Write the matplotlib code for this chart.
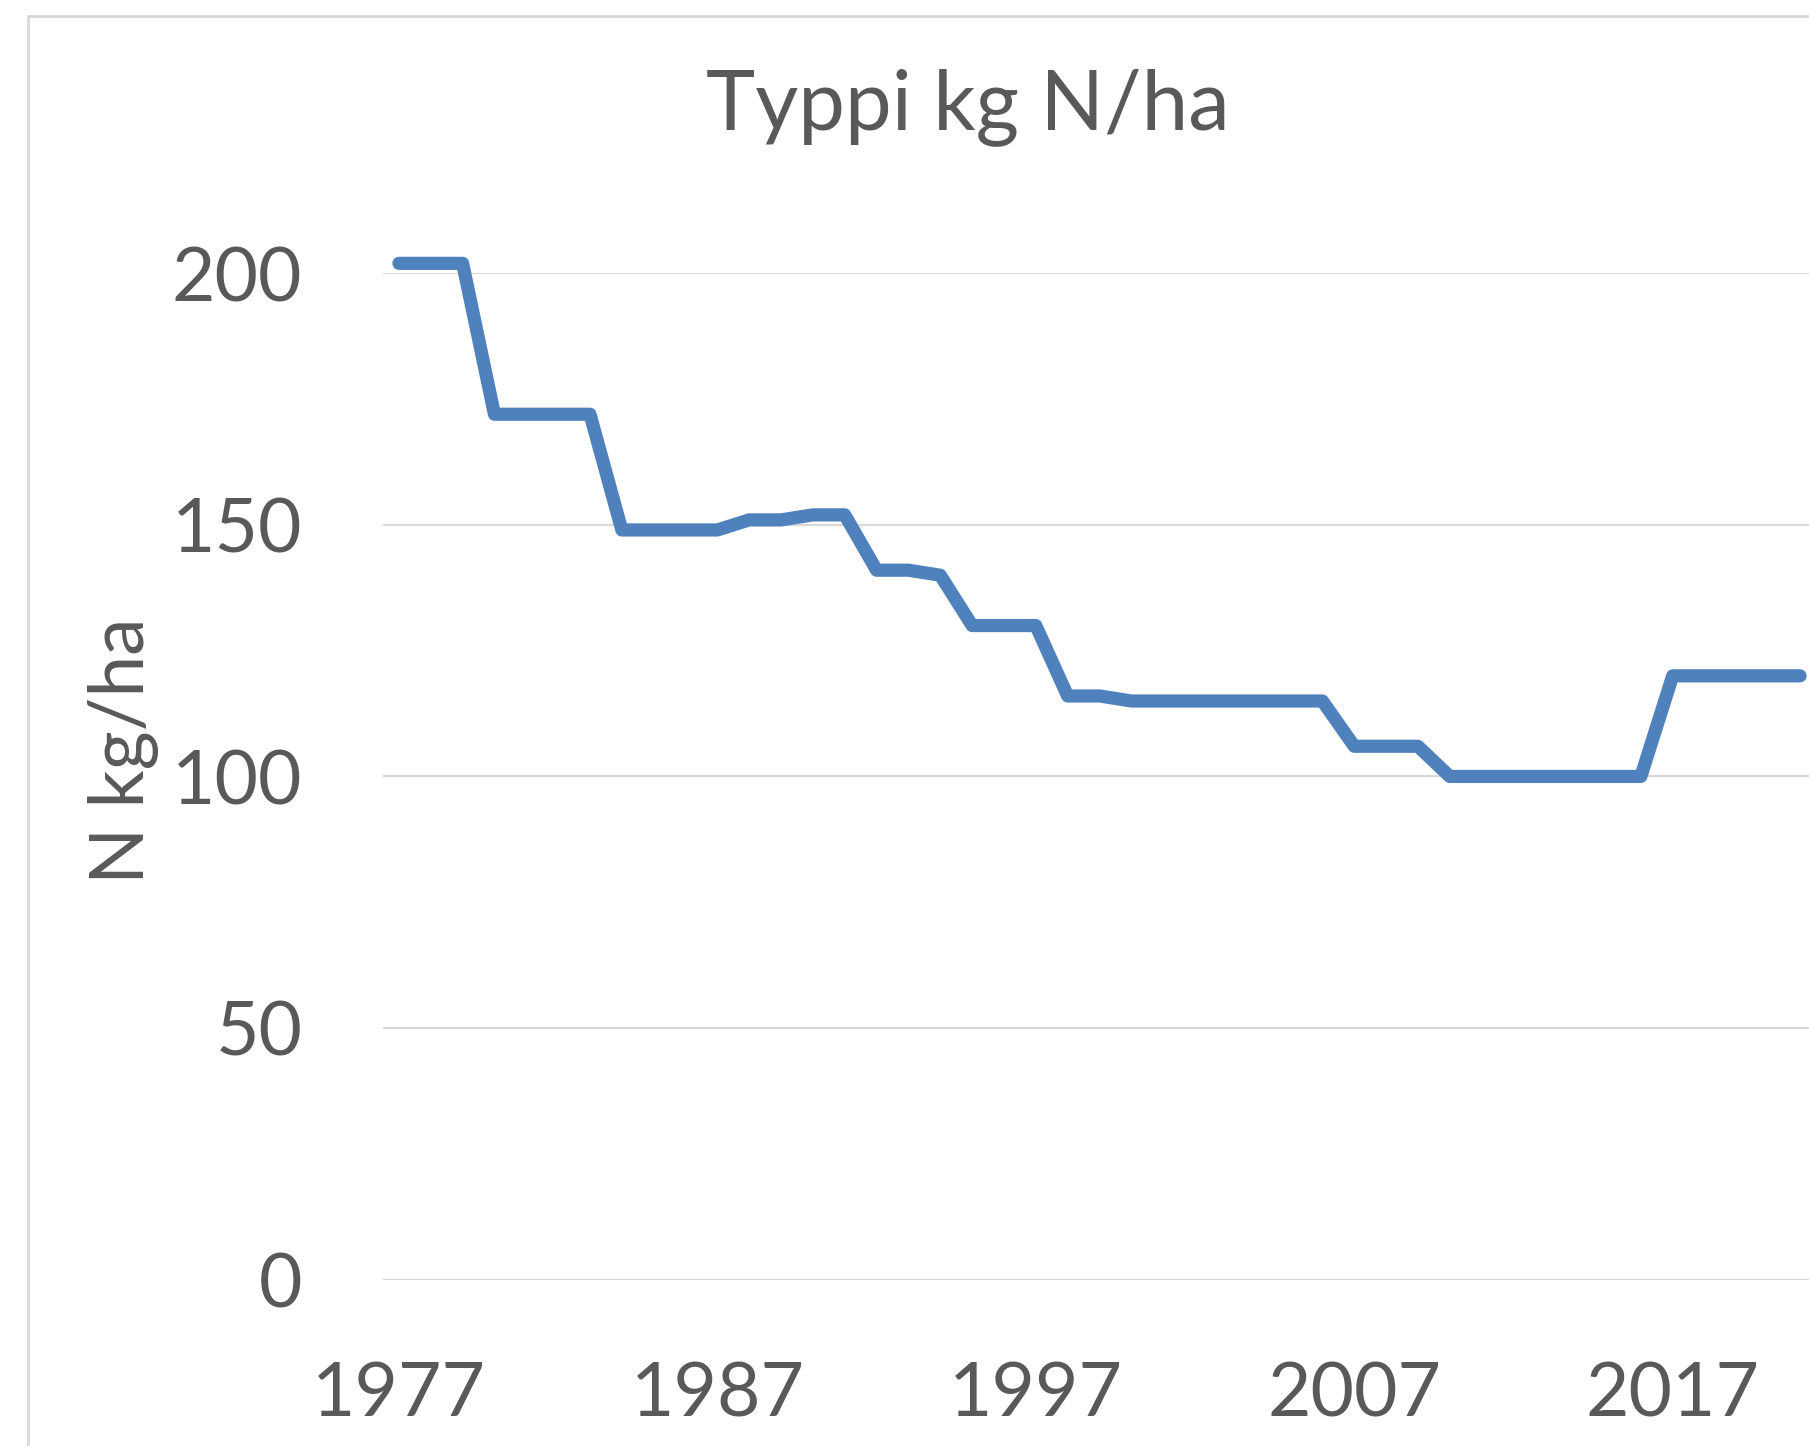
import matplotlib
matplotlib.use("Agg")
import matplotlib.pyplot as plt
from matplotlib.patches import Rectangle

years = list(range(1977, 2022))
values = [202, 202, 202, 172, 172, 172, 172, 149, 149, 149, 149,
          151, 151, 152, 152, 141, 141, 140, 130, 130, 130,
          116, 116, 115, 115, 115, 115, 115, 115, 115,
          106, 106, 106, 100, 100, 100, 100, 100, 100, 100,
          120, 120, 120, 120, 120]
xtick_years = [1977, 1987, 1997, 2007, 2017]
yticks = [0, 50, 100, 150, 200]
title = "Typpi kg N/ha"
ylabel = "N kg/ha"

W, H = 1809, 1446
DPI = 100
TXT = "#595959"
GRID = "#D9D9D9"
LINE = "#4F81BD"
FONT = ["Lato", "DejaVu Sans"]

plt.rcParams["font.family"] = FONT

fig = plt.figure(figsize=(W / DPI, H / DPI), dpi=DPI)
fig.patch.set_facecolor("white")

# chart frame (partly cropped)
fig.patches.append(Rectangle((28 / W, -0.1), 2.0, 1.1 - 16 / H,
                             transform=fig.transFigure, fill=False,
                             edgecolor=GRID, linewidth=2.0))

left_px, right_px = 383, 1816
top_px, bot_px = 273.4, 1279.5
ax = fig.add_axes([left_px / W, 1 - bot_px / H,
                   (right_px - left_px) / W, (bot_px - top_px) / H])
ax.set_facecolor("none")

idx = list(range(len(years)))
ax.plot(idx, values, color=LINE, linewidth=9.5, solid_capstyle="round",
        solid_joinstyle="round", clip_on=False, zorder=3)

ax.set_xlim(-0.5, len(years) - 0.5)
ax.set_ylim(0, 200)
ax.set_yticks(yticks)
ax.set_yticklabels([str(v) for v in yticks])
ax.set_xticks([years.index(y) for y in xtick_years])
ax.set_xticklabels([str(y) for y in xtick_years])

for s in ax.spines.values():
    s.set_visible(False)
ax.grid(axis="y", color=GRID, linewidth=1.6)
ax.grid(axis="x", visible=False)
ax.set_axisbelow(True)
ax.tick_params(axis="both", length=0, labelsize=54, labelcolor=TXT)
ax.tick_params(axis="y", pad=58)
ax.tick_params(axis="x", pad=58)

fig.text(968 / W, 1 - 129 / H, title, ha="center", va="baseline",
         fontsize=60, color=TXT)
fig.text(144 / W, 1 - 751 / H, ylabel, ha="center", va="baseline",
         rotation=90, rotation_mode="anchor", fontsize=54, color=TXT)

fig.savefig("out.png", dpi=DPI, facecolor="white")
